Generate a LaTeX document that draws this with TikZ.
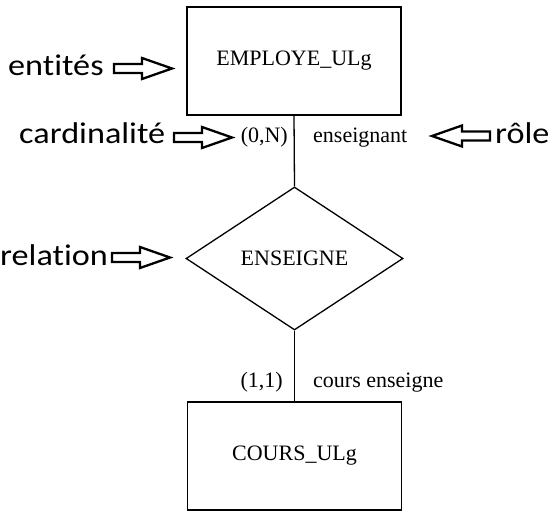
\documentclass[tikz,border=0pt]{standalone}
\usepackage{fontspec}
\setmainfont{Liberation Serif}
\newfontfamily\labfont[FakeStretch=1.14, Ligatures={NoCommon}]{Carlito}
\usetikzlibrary{shapes.geometric}
\begin{document}
\begin{tikzpicture}[x=1pt,y=-1pt,
  entity/.style={draw, line width=1.5pt, rectangle, minimum width=214pt, minimum height=108pt, inner sep=0pt, font=\fontsize{22}{26}\selectfont},
  relbox/.style={draw, line width=1.3pt, diamond, minimum width=217pt, minimum height=143pt, inner sep=0pt, font=\fontsize{22}{26}\selectfont},
  link/.style={line width=1.3pt},
  small/.style={inner sep=0pt, font=\fontsize{22}{26}\selectfont},
  lab/.style={inner sep=0pt, font=\labfont\fontsize{30}{34}\selectfont},
  blockarrow/.pic={\draw[line width=2.3pt, line join=miter] (0,-4.5) -- (28,-4.5) -- (28,-10.5) -- (58,0) -- (28,10.5) -- (28,4.5) -- (0,4.5) -- cycle;}
]
\useasboundingbox (0,0) rectangle (553,516);
\node[entity] (emp) at (294,61) {EMPLOYE\_ULg};
\node[relbox] (ens) at (294.5,258.5) {ENSEIGNE};
\node[entity] (cours) at (294.5,456) {COURS\_ULg};
\draw[link] (emp.south) -- (ens.north);
\draw[link] (ens.south) -- (cours.north);
\node[small, anchor=base east] (c1) at (288,142) {(0,N)};
\node[small, anchor=base west] (r1) at (313,142) {enseignant};
\node[small, anchor=base east] (c2) at (283,387) {(1,1)};
\node[small, anchor=base west] (r2) at (313,387) {cours enseigne};
\node[lab, anchor=base west] (lent) at (8,76) {entités};
\node[lab, anchor=base west] (lcard) at (19,143) {cardinalité};
\node[lab, anchor=base west] (lrel) at (0,265) {relation};
\node[lab, anchor=base west] (lrole) at (495,143) {rôle};
\pic at (114,68.5) {blockarrow};
\pic at (174,137.5) {blockarrow};
\pic at (112,257.5) {blockarrow};
\pic[xscale=-1] at (490,136) {blockarrow};
\end{tikzpicture}
\end{document}
